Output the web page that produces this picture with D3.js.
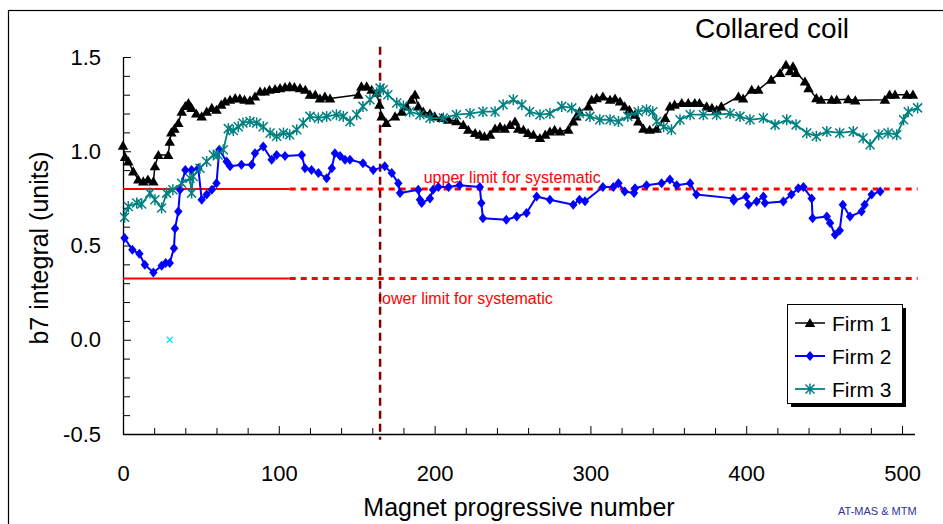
<!DOCTYPE html>
<html>
<head>
<meta charset="utf-8">
<script src="https://cdn.jsdelivr.net/npm/d3@7"></script>
<style>
  html, body { margin: 0; padding: 0; background: #fff; }
  svg { display: block; font-family: "Liberation Sans", Arial, sans-serif; }
</style>
</head>
<body>
<svg id="chart" width="943" height="524"></svg>
<script>
// ---------- data ----------
const firm1X = [0,1.3,3.4,6.6,9.8,13,16,19.5,20.5,22.7,29,30,31,33,35.5,37.7,40,42,44,47,50.5,53.7,57,60,63,65.5,68.7,72,75,78,81.5,84.7,88,91,94,97.6,100.8,104,107,110,113.6,117,120,123.4,126.4,129.6,132.9,151,153,156.4,159.6,162.8,164.6,166,169,174.6,179,182,185,187.4,189.5,192.7,197,200,204.6,209,214,218.4,221.6,226,229,232,235.6,238.8,242,245,248.4,251.6,253.7,257,260,263.4,267.6,271,274,277,280.5,285.8,289,291,293,298.7,300.8,304,308,312.6,315.8,319,322,325,328.6,330.7,334,338,342.5,348,351,354,358.6,362.8,367,370,374.6,378,381,384,395,398,403.5,407.8,416,421.7,425.5,428,430,432,437.7,440,445,448,454.8,458,465.5,470,489,492,495.5,503,507];
const firm1Y = [1.03,0.97,0.946,0.893,0.85,0.84,0.85,0.84,0.92,0.98,0.98,1.05,1.10,1.12,1.15,1.21,1.24,1.256,1.23,1.20,1.185,1.21,1.23,1.22,1.247,1.264,1.273,1.282,1.28,1.273,1.27,1.29,1.317,1.317,1.326,1.33,1.335,1.34,1.344,1.34,1.335,1.326,1.30,1.30,1.28,1.29,1.28,1.30,1.344,1.344,1.326,1.31,1.247,1.185,1.15,1.185,1.21,1.238,1.273,1.30,1.238,1.21,1.20,1.185,1.176,1.167,1.16,1.14,1.114,1.097,1.088,1.079,1.088,1.12,1.13,1.12,1.14,1.158,1.12,1.114,1.097,1.088,1.07,1.088,1.105,1.114,1.105,1.114,1.158,1.185,1.21,1.238,1.273,1.282,1.29,1.273,1.28,1.264,1.238,1.22,1.194,1.158,1.12,1.114,1.12,1.176,1.238,1.247,1.256,1.256,1.256,1.256,1.238,1.23,1.22,1.238,1.29,1.28,1.326,1.326,1.38,1.415,1.459,1.424,1.45,1.415,1.37,1.335,1.282,1.273,1.273,1.273,1.276,1.27,1.273,1.30,1.30,1.30,1.30];

const firm2X = [1,6,10.5,14,19.5,24.8,27.4,30,32.7,33.4,35.5,36.6,40,44,48.3,50.5,53.7,57,60,61.8,66.5,68.7,76,82.6,84.7,90,95.4,98.6,104,114.7,116.8,121,125.4,130.7,134,136,139.3,142.5,145.7,154,160.6,168,172.5,176.7,177.8,189.5,190.6,191.7,197,199,202.4,209,216,229,230,231,246,252.7,259,265.5,274,289,293,296.5,308,314.7,318,322,328,328.6,336,345.7,351,355.4,364,368,391.7,392,400,401.5,406.7,411,412,423.8,429,433.4,436.7,442,442.6,451.7,453.8,457,460,462,466.6,474,476,480.5,486];
const firm2Y = [0.54,0.477,0.456,0.398,0.357,0.393,0.407,0.407,0.486,0.59,0.68,0.796,0.90,0.90,0.91,0.743,0.77,0.796,0.83,1.008,0.946,0.92,0.928,0.928,0.99,1.025,0.955,0.98,0.975,0.98,0.91,0.90,0.884,0.857,0.91,0.99,0.975,0.955,0.955,0.937,0.90,0.92,0.884,0.83,0.778,0.796,0.743,0.725,0.75,0.796,0.81,0.81,0.82,0.81,0.725,0.645,0.636,0.654,0.672,0.76,0.743,0.716,0.743,0.735,0.81,0.81,0.83,0.787,0.778,0.804,0.82,0.83,0.85,0.82,0.83,0.77,0.75,0.737,0.76,0.716,0.734,0.76,0.725,0.734,0.77,0.804,0.81,0.75,0.645,0.654,0.62,0.557,0.58,0.716,0.654,0.68,0.716,0.77,0.787];

const firm3X = [1,3.4,8.8,12,17.3,20.5,24.8,28,32,37.7,43,44,45,49.4,53.7,58,61,64.4,67.6,70.8,74,77,81.5,85.8,90,94.4,98.6,103,107,111.5,115.7,120,125.4,130.7,137,141.4,145.7,150,154,158.5,162.8,165,167,170,175.7,180,184,190.6,197,205.6,214,222.7,231,238.8,244,250.5,256,261,267.6,274,281.6,288,293,299.7,306,312.6,318,324,330.7,336,340,342.5,347,352,357.5,364,372.5,381,389.6,396,402.4,411,418.5,426,432,438.8,445,451.7,460,468.7,475,479.5,485,491,496.6,501,504,510];
const firm3Y = [0.65,0.707,0.725,0.72,0.778,0.743,0.699,0.778,0.796,0.83,0.857,0.778,0.866,0.91,0.946,0.98,0.98,1.008,1.12,1.11,1.13,1.15,1.158,1.15,1.13,1.097,1.08,1.097,1.088,1.114,1.15,1.185,1.176,1.185,1.194,1.185,1.158,1.194,1.238,1.273,1.31,1.335,1.326,1.30,1.256,1.24,1.21,1.194,1.176,1.176,1.194,1.20,1.21,1.21,1.247,1.273,1.247,1.21,1.194,1.20,1.238,1.23,1.20,1.185,1.167,1.167,1.158,1.185,1.21,1.22,1.21,1.158,1.13,1.114,1.167,1.194,1.194,1.194,1.20,1.185,1.167,1.176,1.14,1.167,1.14,1.097,1.08,1.105,1.097,1.105,1.07,1.034,1.088,1.097,1.088,1.167,1.21,1.23];

const seriesNames = ["Firm 1", "Firm 2", "Firm 3"];
const stray = [{x: 30, y: 0.0}];
const upperLimit = 0.8;
const lowerLimit = 0.325;
const limitSolidEnd = 107;
const limitDotEnd = 510;
const markerLine = 165;
const xTicksMajor = [0, 100, 200, 300, 400, 500];
const yTicksMajor = [-0.5, 0.0, 0.5, 1.0, 1.5];

// ---------- scales ----------
const svg = d3.select("#chart");
const x = d3.scaleLinear().domain([0, 508]).range([123, 914.5]);
const y = d3.scaleLinear().domain([-0.5, 1.5]).range([434, 57]);

// outer border
svg.append("rect").attr("x", 8.5).attr("y", 10.5).attr("width", 960).attr("height", 600)
  .attr("fill", "none").attr("stroke", "#000").attr("stroke-width", 1.2);

// ---------- axes ----------
const xMinor = d3.range(0, 501, 20).filter(v => v % 100 !== 0);
svg.append("g").attr("transform", `translate(0,${y(-0.5)})`)
  .call(d3.axisBottom(x).tickValues(xMinor).tickSizeInner(-6).tickSizeOuter(0).tickFormat(""))
  .call(g => g.select(".domain").attr("stroke", "#000").attr("stroke-width", 1.3))
  .call(g => g.selectAll(".tick line").attr("stroke", "#000"));
svg.append("g").attr("transform", `translate(0,${y(-0.5)})`)
  .call(d3.axisBottom(x).tickValues(xTicksMajor).tickSizeInner(-8).tickSizeOuter(0).tickPadding(31).tickFormat(d => String(d)))
  .call(g => g.select(".domain").remove())
  .call(g => g.selectAll(".tick line").attr("stroke", "#000"))
  .call(g => g.selectAll(".tick text").attr("font-size", 22).attr("fill", "#000")
    .attr("font-family", '"Liberation Sans", Arial, sans-serif'));

const yMinor = d3.range(-5, 16).map(v => v / 10).filter(v => Math.abs(v * 2 - Math.round(v * 2)) > 1e-6);
svg.append("g").attr("transform", `translate(${x(0)},0)`)
  .call(d3.axisLeft(y).tickValues(yMinor).tickSizeInner(-7).tickSizeOuter(0).tickFormat(""))
  .call(g => g.select(".domain").attr("stroke", "#000").attr("stroke-width", 1.3))
  .call(g => g.selectAll(".tick line").attr("stroke", "#000"));
svg.append("g").attr("transform", `translate(${x(0)},0)`)
  .call(d3.axisLeft(y).tickValues(yTicksMajor).tickSizeInner(-8).tickSizeOuter(0).tickPadding(22).tickFormat(d => d.toFixed(1)))
  .call(g => g.select(".domain").remove())
  .call(g => g.selectAll(".tick line").attr("stroke", "#000"))
  .call(g => g.selectAll(".tick text").attr("font-size", 22).attr("fill", "#000")
    .attr("font-family", '"Liberation Sans", Arial, sans-serif'));

// axis titles
svg.append("text").attr("x", 519).attr("y", 516).attr("text-anchor", "middle")
  .attr("font-size", 25).text("Magnet progressive number");
svg.append("text").attr("transform", "translate(48,248) rotate(-90)").attr("text-anchor", "middle")
  .attr("font-size", 25).text("b7 integral (units)");
svg.append("text").attr("x", 695).attr("y", 38).attr("font-size", 28).text("Collared coil");
svg.append("text").attr("x", 838).attr("y", 515).attr("font-size", 11).attr("fill", "#333399").text("AT-MAS & MTM");

// ---------- limit lines ----------
[upperLimit, lowerLimit].forEach(v => {
  svg.append("line").attr("x1", x(0)).attr("x2", x(limitSolidEnd)).attr("y1", y(v)).attr("y2", y(v))
    .attr("stroke", "#ff0000").attr("stroke-width", 2);
  svg.append("line").attr("x1", x(limitSolidEnd)).attr("x2", x(limitDotEnd)).attr("y1", y(v)).attr("y2", y(v))
    .attr("stroke", "#ff0000").attr("stroke-width", 3).attr("stroke-dasharray", "6,5");
});
svg.append("text").attr("x", x(193)).attr("y", y(0.83)).attr("font-size", 16).attr("fill", "#ff0000")
  .text("upper limit for systematic");
svg.append("text").attr("x", x(164)).attr("y", y(0.19)).attr("font-size", 16).attr("fill", "#ff0000")
  .text("lower limit for systematic");

// vertical marker line
svg.append("line").attr("x1", x(markerLine)).attr("x2", x(markerLine)).attr("y1", y(1.555)).attr("y2", y(-0.53))
  .attr("stroke", "#800000").attr("stroke-width", 2.5).attr("stroke-dasharray", "8,5");

// ---------- series ----------
const line = d3.line().x(d => x(d[0])).y(d => y(d[1]));
const series = [
  {name: seriesNames[0], xs: firm1X, ys: firm1Y, color: "#000000", width: 1.5, marker: "triangle"},
  {name: seriesNames[1], xs: firm2X, ys: firm2Y, color: "#0000ff", width: 2, marker: "diamond"},
  {name: seriesNames[2], xs: firm3X, ys: firm3Y, color: "#008080", width: 1.8, marker: "star"}
];

function drawMarker(g, kind, color, cx, cy) {
  if (kind === "triangle") {
    g.append("path").attr("d", d3.symbol(d3.symbolTriangle, 48)()).attr("transform", `translate(${cx},${cy + 1})`)
      .attr("fill", color);
  } else if (kind === "diamond") {
    g.append("path").attr("d", "M0,-5L4.2,0L0,5L-4.2,0Z").attr("transform", `translate(${cx},${cy})`)
      .attr("fill", color);
  } else {
    g.append("path").attr("d", "M-4.5,-4.5L4.5,4.5M-4.5,4.5L4.5,-4.5M0,-5.5L0,5.5").attr("transform", `translate(${cx},${cy})`)
      .attr("stroke", color).attr("stroke-width", 1.5).attr("fill", "none");
  }
}

series.forEach(s => {
  const pts = s.xs.map((v, i) => [v, s.ys[i]]);
  const g = svg.append("g");
  g.append("path").datum(pts).attr("d", line).attr("fill", "none")
    .attr("stroke", s.color).attr("stroke-width", s.width).attr("stroke-linejoin", "round");
  pts.forEach(p => drawMarker(g, s.marker, s.color, x(p[0]), y(p[1])));
});

// stray cyan point
stray.forEach(p => {
  svg.append("path").attr("d", "M-3,-3L3,3M-3,3L3,-3").attr("transform", `translate(${x(p.x)},${y(p.y)})`)
    .attr("stroke", "#00e5ff").attr("stroke-width", 1.2);
});

// ---------- legend ----------
const lg = svg.append("g");
lg.append("rect").attr("x", 791).attr("y", 308).attr("width", 115).attr("height", 99).attr("fill", "#000");
lg.append("rect").attr("x", 787.5).attr("y", 304.5).attr("width", 115).attr("height", 99)
  .attr("fill", "#fff").attr("stroke", "#000").attr("stroke-width", 1);
series.forEach((s, i) => {
  const ly = 323 + i * 33;
  lg.append("line").attr("x1", 795).attr("x2", 825).attr("y1", ly).attr("y2", ly)
    .attr("stroke", s.color).attr("stroke-width", s.width);
  drawMarker(lg, s.marker, s.color, 810, ly);
  lg.append("text").attr("x", 832).attr("y", ly + 8).attr("font-size", 21).text(s.name);
});
</script>
</body>
</html>
